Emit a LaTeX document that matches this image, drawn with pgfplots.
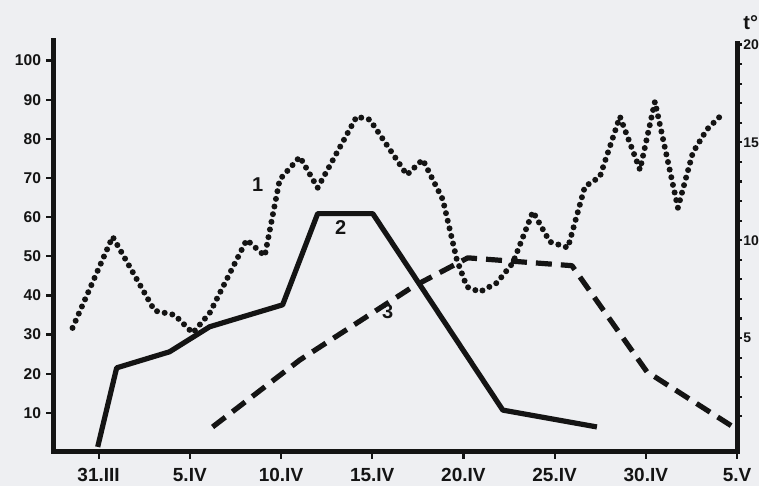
\documentclass[border=0pt]{standalone}
\usepackage{fontspec}
\setmainfont{Liberation Sans}
\usepackage{pgfplots}
\pgfplotsset{compat=1.18}
\definecolor{paper}{RGB}{238,239,242}
\definecolor{ink}{RGB}{20,20,20}
\begin{document}
\begin{tikzpicture}[x=1pt,y=1pt]
\fill[paper] (0,0) rectangle (379.5,243);
\useasboundingbox (0,0) rectangle (379.5,243);
\begin{axis}[
  at={(26.5pt,17pt)}, anchor=south west,
  scale only axis, width=342pt, height=205.5pt,
  xmin=-2.5, xmax=35, ymin=0, ymax=105,
  axis x line*=bottom, axis y line*=left,
  axis line style={line width=2.5pt, -, ink, line cap=rect},
  xtick={0,5,...,35},
  xticklabels={31.III,5.IV,10.IV,15.IV,20.IV,25.IV,30.IV,5.V},
  ytick={10,20,...,100},
  tick style={ink, line width=1.1pt},
  tick align=outside, major tick length=3.5pt,
  /pgf/number format/assume math mode=true,
  xticklabel style={font=\fontsize{9.5}{10}\selectfont\bfseries, text=ink, yshift=-1pt},
  yticklabel style={font=\fontsize{7.8}{8}\selectfont\bfseries, text=ink, xshift=1pt},
  clip=false,
]
% curve 1 (dotted)
\addplot[ink, line width=3pt, line cap=round, dash pattern=on 0pt off 3.9pt, line join=round] coordinates {
(-1.43,31.7) (0.77,55.0) (3.07,36.1) (4.17,35.0) (5.16,30.4) (6.09,35.5)
(8.12,54.2) (9.11,50.1) (9.93,69.6) (11.03,75.4) (12.01,67.5) (14.15,85.7)
(14.87,84.9) (16.90,70.8) (17.77,74.7) (18.87,64.5) (19.64,49.1) (20.19,42.2)
(20.90,40.9) (21.83,43.2) (22.71,48.3) (23.81,61.4) (24.74,53.7) (25.73,52.2)
(26.66,67.8) (27.48,70.3) (28.58,85.7) (29.68,72.1) (30.50,89.5) (31.76,62.4)
(32.58,76.5) (33.35,82.4) (34.17,86.2)
};
% curve 2 (solid)
\addplot[ink, line width=2.6pt, line join=round] coordinates {
(-0.05,1.3) (0.99,21.5) (3.89,25.6) (6.09,32.0) (10.09,37.6) (12.01,60.9)
(15.03,60.9) (22.16,10.7) (27.32,6.4)
};
% curve 3 (dashed)
\addplot[ink, line width=2.6pt, dash pattern=on 8pt off 4.5pt, line join=round] coordinates {
(6.25,6.4) (11.03,23.5) (17.22,42.2) (20.24,49.6) (25.95,47.6) (30.06,20.5) (34.89,6.1)
};
\node[font=\fontsize{10}{10}\selectfont\bfseries, text=ink] at (axis cs:8.72,68.3) {1};
\node[font=\fontsize{10}{10}\selectfont\bfseries, text=ink] at (axis cs:13.27,57.3) {2};
\node[font=\fontsize{10}{10}\selectfont\bfseries, text=ink] at (axis cs:15.85,35.8) {3};
\end{axis}
\begin{axis}[
  at={(26.5pt,17pt)}, anchor=south west,
  scale only axis, width=342pt, height=205.5pt,
  xmin=-2.5, xmax=35, ymin=-0.82, ymax=20.18,
  axis x line=none, axis y line*=right,
  axis line style={line width=2.5pt, -, ink},
  ytick={1,...,20},
  yticklabels={,,,,5,,,,,10,,,,,15,,,,,20},
  tick style={ink, line width=1.1pt},
  tick align=outside, major tick length=2.5pt,
  /pgf/number format/assume math mode=true,
  yticklabel style={font=\fontsize{7}{8}\selectfont\bfseries, text=ink, inner sep=0.5pt, xshift=0pt},
  clip=false,
]
\addplot[draw=none] coordinates {(0,0)};
\node[font=\fontsize{10}{10}\selectfont\bfseries, text=ink, anchor=south] at (rel axis cs:1.02,1.01) {t\textdegree};
\end{axis}
\end{tikzpicture}
\end{document}
